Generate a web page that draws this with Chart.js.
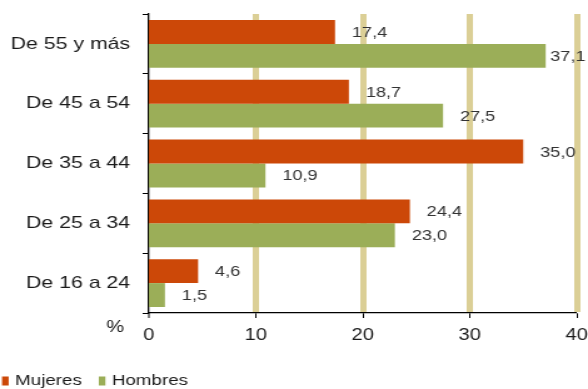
<!DOCTYPE html>
<html>
<head>
<meta charset="utf-8">
<script src="https://cdn.jsdelivr.net/npm/chart.js@4/dist/chart.umd.min.js"></script>
<style>
  html, body { margin: 0; padding: 0; background: #fff; overflow: hidden; }
  #ageChart { display: block; }
</style>
</head>
<body>
<!-- drawn 470 wide, shown stretched to 588 -->
<canvas id="ageChart" width="470" height="389" style="width:588px;height:389px"></canvas>
<script>
const ageGroups = ['De 55 y más', 'De 45 a 54', 'De 35 a 44', 'De 25 a 34', 'De 16 a 24'];
const mujeres = [17.4, 18.7, 35.0, 24.4, 4.6];
const hombres = [37.1, 27.5, 10.9, 23.0, 1.5];
const xTicks = [0, 10, 20, 30, 40];

const FONT = '"Liberation Sans", Arial, sans-serif';
Chart.defaults.font.family = FONT;
Chart.defaults.color = '#1a1a1a';

const fmt = v => v.toFixed(1).replace('.', ',');

// value next to the end of every bar
const valueLabels = {
  id: 'valueLabels',
  afterDatasetsDraw(chart) {
    const ctx = chart.ctx;
    ctx.save();
    ctx.font = '14.5px ' + FONT;
    ctx.fillStyle = '#333';
    ctx.textBaseline = 'middle';
    chart.data.datasets.forEach((ds, i) => {
      chart.getDatasetMeta(i).data.forEach((bar, j) => {
        const text = fmt(ds.data[j]);
        const w = ctx.measureText(text).width;
        const x = Math.min(bar.x + 13.5, chart.width - w - 2);
        ctx.fillText(text, x, bar.y + 1);
      });
    });
    ctx.restore();
  }
};

// "%" unit before the axis, and the legend in the bottom-left corner
const extras = {
  id: 'extras',
  afterDraw(chart) {
    const ctx = chart.ctx;
    const xs = chart.scales.x;
    ctx.save();
    ctx.fillStyle = '#1a1a1a';
    ctx.font = '16px ' + FONT;
    ctx.textAlign = 'center';
    ctx.textBaseline = 'middle';
    ctx.fillText('%', xs.left - 27, xs.top + 15);

    ctx.font = '15px ' + FONT;
    ctx.textAlign = 'left';
    const y = 381;
    let x = 1.6;
    chart.data.datasets.forEach(ds => {
      ctx.fillStyle = ds.backgroundColor;
      ctx.fillRect(x, y - 4.5, 5.3, 9);
      x += 10.5;
      ctx.fillStyle = '#1a1a1a';
      ctx.fillText(ds.label, x, y);
      x += ctx.measureText(ds.label).width + 13.5;
    });
    ctx.restore();
  }
};

const isZero = c => c.tick && c.tick.value === 0;

new Chart(document.getElementById('ageChart'), {
  type: 'bar',
  data: {
    labels: ageGroups,
    datasets: [
      { label: 'Mujeres', data: mujeres, backgroundColor: '#cc4808' },
      { label: 'Hombres', data: hombres, backgroundColor: '#9bae58' }
    ]
  },
  options: {
    indexAxis: 'y',
    responsive: false,
    devicePixelRatio: 1,
    animation: false,
    layout: { padding: { top: 14, right: 9, bottom: 46, left: 0 } },
    datasets: { bar: { categoryPercentage: 0.8, barPercentage: 1.0 } },
    scales: {
      x: {
        min: xTicks[0],
        max: xTicks[xTicks.length - 1],
        afterBuildTicks: s => { s.ticks = xTicks.map(v => ({ value: v })); },
        afterFit: s => { s.height = 30; s.paddingLeft = 0; s.paddingRight = 0; },
        grid: {
          color: c => isZero(c) ? 'rgba(0,0,0,0)' : '#dbcf96',
          lineWidth: c => isZero(c) ? 0 : 5,
          tickColor: '#000',
          tickWidth: 1,
          tickLength: 5
        },
        border: { color: '#000', width: 1.3 },
        ticks: { font: { size: 16 }, padding: 8, color: '#1a1a1a' }
      },
      y: {
        afterFit: s => { s.width = 119; s.paddingTop = 0; s.paddingBottom = 0; },
        grid: {
          drawOnChartArea: false,
          tickColor: '#000',
          tickWidth: 1,
          tickLength: 5
        },
        border: { color: '#000', width: 1.3 },
        ticks: { font: { size: 17 }, padding: 10, color: '#1a1a1a' }
      }
    },
    plugins: {
      legend: { display: false },
      tooltip: { enabled: false }
    }
  },
  plugins: [valueLabels, extras]
});
</script>
</body>
</html>
